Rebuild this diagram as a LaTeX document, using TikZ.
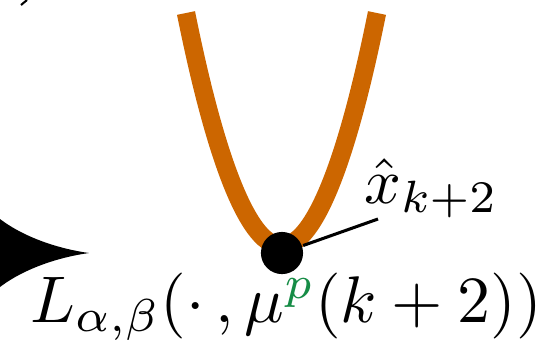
\documentclass[tikz,border=0pt]{standalone}
\usepackage{xcolor}
\definecolor{curveorange}{RGB}{204,102,0}
\definecolor{pgreen}{RGB}{22,140,70}
\begin{document}
\begin{tikzpicture}[x=0.1471pt,y=-0.1471pt,
  curve/.style={draw=curveorange,line width=2.7pt},
  pointdot/.style={circle,fill=black,inner sep=0pt,minimum size=6.2pt},
  lbl/.style={inner sep=0pt,anchor=base west},
  leader/.style={draw=black,line width=0.45pt}]
\useasboundingbox (0,0) rectangle (536,345);
% arrow tip at left
\fill[black] (89,253) .. controls (60,249) and (25,238) .. (0,219) -- (-5,219) -- (-5,287) -- (0,287) .. controls (25,268) and (60,257) .. (89,253);
% small mark top-left
\draw[black,line width=0.3pt] (21,5) -- (27,0);
% parabola
\draw[curve] (186,13) parabola bend (281.5,246) (377,13);
% point
\node[pointdot] (xk) at (282,253) {};
\coordinate (lend) at (378,219);
\draw[leader] (xk) -- (lend);
% labels
\node[lbl,scale=0.95] (xhat) at (363,203) {$\hat{x}_{k+2}$};
\node[lbl,scale=0.97] (L) at (29,322) {$L_{\alpha,\beta}(\cdot\,,\mu^{\textcolor{pgreen}{p}}(k+2))$};
\end{tikzpicture}
\end{document}
